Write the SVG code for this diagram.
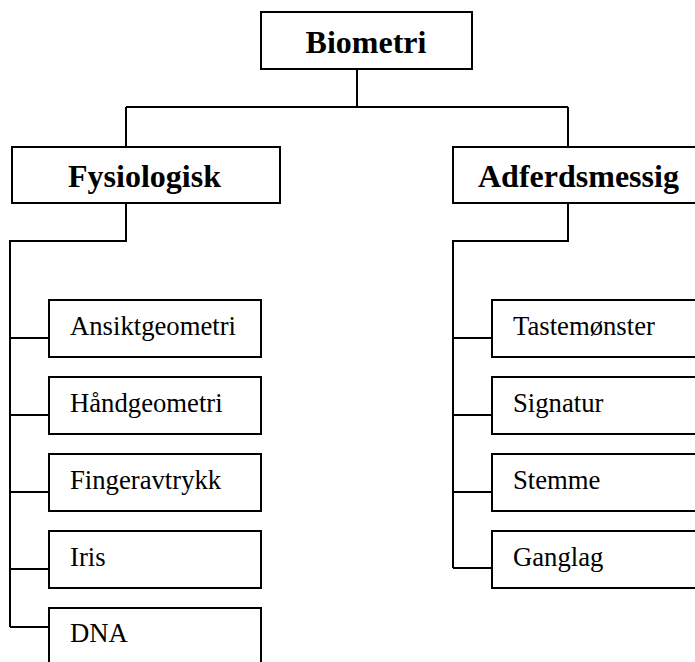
<svg xmlns="http://www.w3.org/2000/svg" width="695" height="662" viewBox="0 0 695 662">
<style>
.box{fill:#fff;stroke:#000;stroke-width:2}
.ln{fill:none;stroke:#000;stroke-width:2}
.h{font-family:"Liberation Serif","Times New Roman",serif;font-weight:bold;font-size:32px;fill:#000}
.t{font-family:"Liberation Serif","Times New Roman",serif;font-size:26.7px;fill:#000}
</style>
<rect width="695" height="662" fill="#fff"/>
<g id="connectors">
<path class="ln" d="M357 69V107M126 107H568M126 107V147M568 107V147"/>
<path class="ln" d="M126 203V241H10V627"/>
<path class="ln" d="M10 338H49M10 415H49M10 492H49M10 569H49M10 627H49"/>
<path class="ln" d="M568 203V241H453V568"/>
<path class="ln" d="M453 338H492M453 415H492M453 492H492M453 568H492"/>
</g>
<g id="biometri"><rect class="box" x="261" y="12" width="211" height="57"/><text class="h" x="366" y="53" text-anchor="middle">Biometri</text></g>
<g id="fysiologisk"><rect class="box" x="12" y="147" width="268" height="56"/><text class="h" x="68" y="187">Fysiologisk</text></g>
<g id="adferdsmessig"><rect class="box" x="453" y="147" width="252" height="56"/><text class="h" x="478" y="187">Adferdsmessig</text></g>
<g id="ansiktgeometri"><rect class="box" x="49" y="300" width="212" height="57"/><text class="t" x="70" y="335">Ansiktgeometri</text></g>
<g id="handgeometri"><rect class="box" x="49" y="377" width="212" height="57"/><text class="t" x="70" y="412">Håndgeometri</text></g>
<g id="fingeravtrykk"><rect class="box" x="49" y="454" width="212" height="57"/><text class="t" x="70" y="489">Fingeravtrykk</text></g>
<g id="iris"><rect class="box" x="49" y="531" width="212" height="57"/><text class="t" x="70" y="566">Iris</text></g>
<g id="dna"><rect class="box" x="49" y="608" width="212" height="60"/><text class="t" x="70" y="642">DNA</text></g>
<g id="tastemonster"><rect class="box" x="492" y="300" width="212" height="57"/><text class="t" x="513" y="335">Tastemønster</text></g>
<g id="signatur"><rect class="box" x="492" y="377" width="212" height="57"/><text class="t" x="513" y="412">Signatur</text></g>
<g id="stemme"><rect class="box" x="492" y="454" width="212" height="57"/><text class="t" x="513" y="489">Stemme</text></g>
<g id="ganglag"><rect class="box" x="492" y="531" width="212" height="57"/><text class="t" x="513" y="566">Ganglag</text></g>
</svg>
